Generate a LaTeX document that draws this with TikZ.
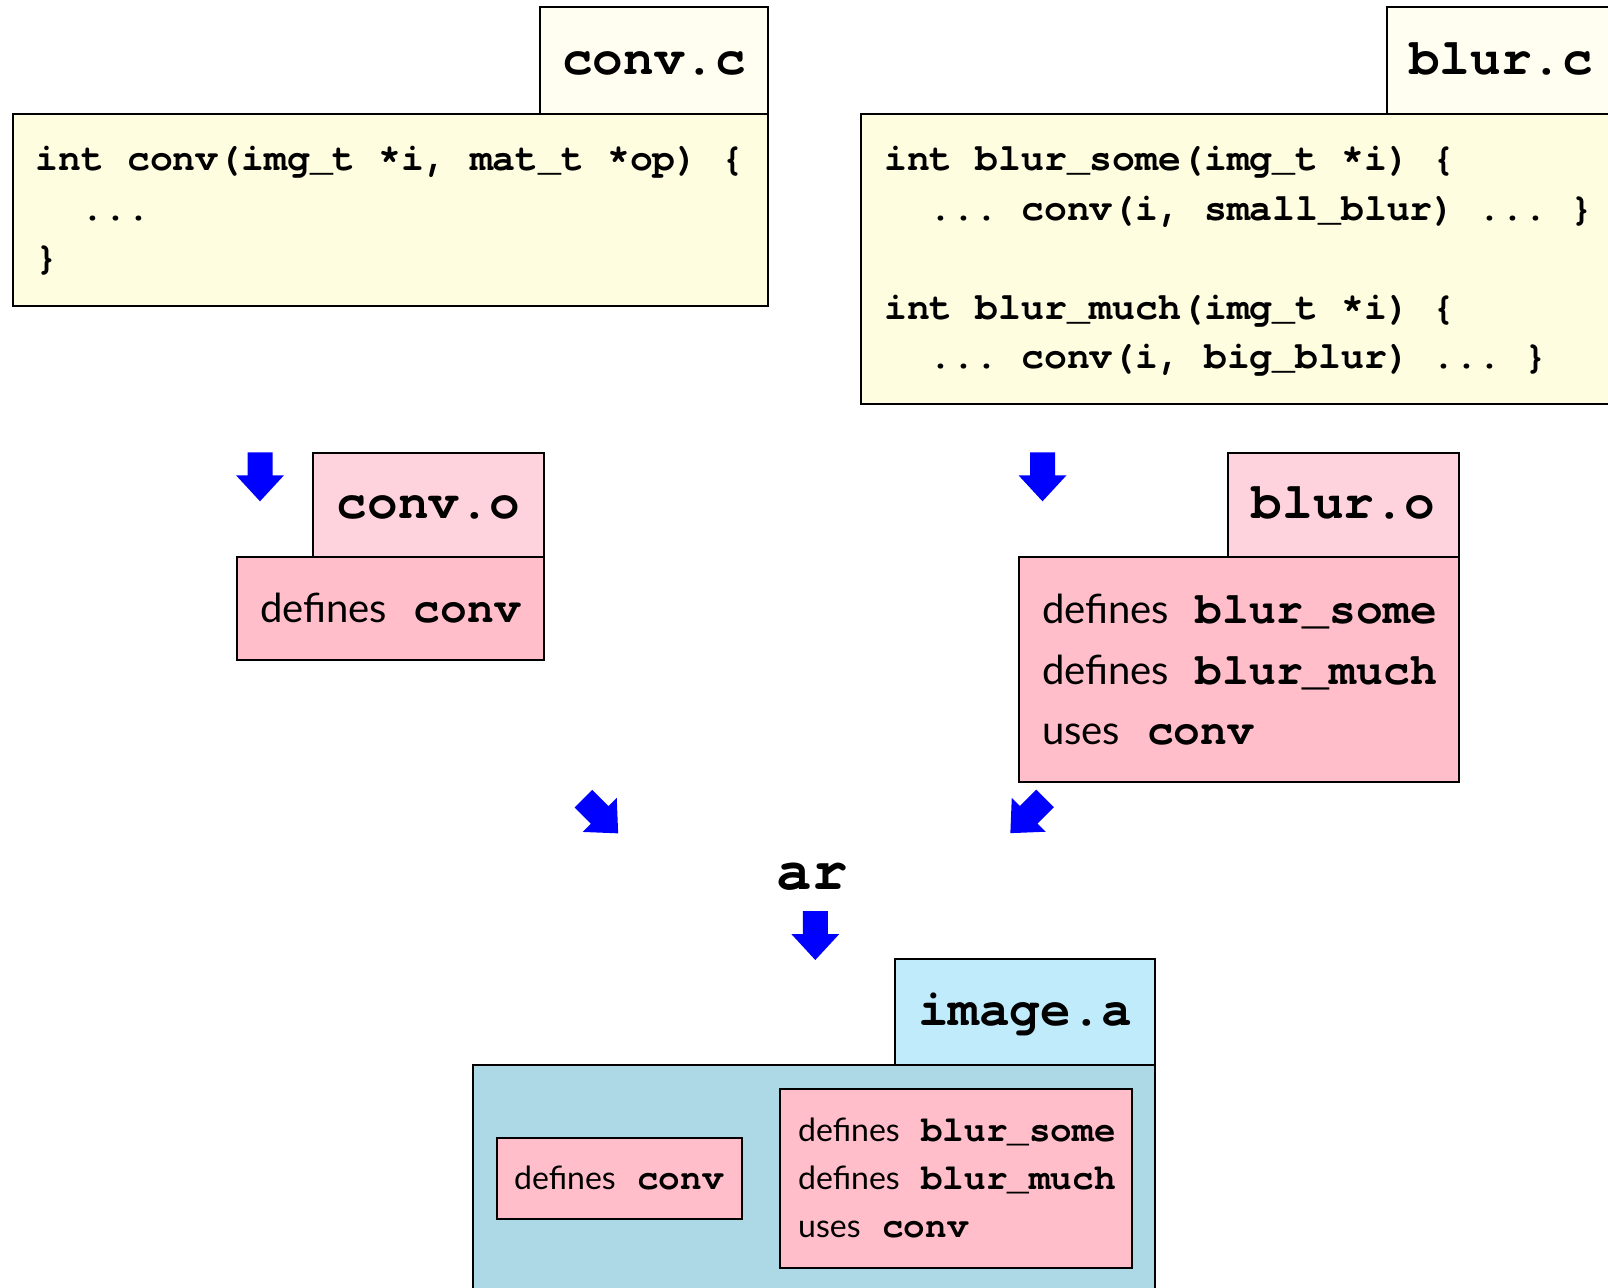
\documentclass[tikz,border=0pt]{standalone}
\usepackage{fontspec}
\setmainfont{Lato}
\newfontfamily\cur{texgyrecursor-bold.otf}
\definecolor{codetabc}{HTML}{FFFEF0}
\definecolor{codebodyc}{HTML}{FFFDE0}
\definecolor{pinktabc}{HTML}{FFD3DE}
\definecolor{pinkbodyc}{HTML}{FFBEC9}
\definecolor{cyantabc}{HTML}{BFEBFA}
\definecolor{cyanbodyc}{HTML}{ADD8E6}
\tikzset{
  box/.style={draw=black, line width=2pt, inner sep=0pt, outer sep=0pt, anchor=north west},
  codetab/.style={box, fill=codetabc},
  codebody/.style={box, fill=codebodyc},
  pinktab/.style={box, fill=pinktabc},
  pinkbody/.style={box, fill=pinkbodyc},
  cyantab/.style={box, fill=cyantabc},
  cyanbody/.style={box, fill=cyanbodyc},
  lbl/.style={anchor=base, inner sep=0pt, font=\cur\fontsize{51}{55}\selectfont},
  code/.style={anchor=base west, inner sep=0pt, font=\cur\fontsize{38.1}{40}\selectfont\frenchspacing},
  body/.style={anchor=base west, inner sep=0pt, font=\fontsize{40}{44}\selectfont},
  inbody/.style={anchor=base west, inner sep=0pt, font=\fontsize{32}{36}\selectfont},
  blockarrow/.pic={\fill[blue] (-12.5,0) -- (12.5,0) -- (12.5,23) -- (24,23) -- (0,49) -- (-24,23) -- (-12.5,23) -- cycle;}
}
\newcommand{\bm}[1]{{\cur\fontsize{44.6}{48}\selectfont~#1}}
\newcommand{\im}[1]{{\cur\fontsize{36}{40}\selectfont~#1}}
\begin{document}
\begin{tikzpicture}[x=1pt,y=-1pt]
\useasboundingbox (0,0) rectangle (1608,1287);
\clip (0,0) rectangle (1608,1287);
\fill[white] (0,0) rectangle (1608,1287);
% conv.c
\node[codetab, minimum width=228pt, minimum height=107pt] (convtab) at (540,7) {};
\node[codebody, minimum width=755.5pt, minimum height=192pt] (convbody) at (12.5,114) {};
\node[lbl] (convlbl) at (654,75) {conv.c};
\node[code] (cc1) at (35.5,170.5) {int conv(img\_t *i, mat\_t *op) \{};
\node[code] (cc2) at (35.5,220) {~~...};
\node[code] (cc3) at (35.5,269.5) {\}};
% blur.c
\node[codetab, minimum width=229pt, minimum height=107pt] (blurtab) at (1386.5,7) {};
\node[codebody, minimum width=760pt, minimum height=290pt] (blurbody) at (861,114) {};
\node[lbl] (blurlbl) at (1501,75) {blur.c};
\node[code] (bc1) at (884,170.5) {int blur\_some(img\_t *i) \{};
\node[code] (bc2) at (884,220) {~~... conv(i, small\_blur) ... \}};
\node[code] (bc3) at (884,319) {int blur\_much(img\_t *i) \{};
\node[code] (bc4) at (884,368.5) {~~... conv(i, big\_blur) ... \}};
% conv.o
\pic (arrconv) at (260,452.3) {blockarrow};
\node[pinktab, minimum width=230.7pt, minimum height=104.6pt] (convotab) at (313.3,452.7) {};
\node[pinkbody, minimum width=307.3pt, minimum height=102.7pt] (convobody) at (236.7,557.3) {};
\node[lbl] (convolbl) at (428.7,518) {conv.o};
\node[body] (co1) at (260,622.5) {defines\bm{conv}};
% blur.o
\pic (arrblur) at (1042.5,452.3) {blockarrow};
\node[pinktab, minimum width=230.7pt, minimum height=104.6pt] (blurotab) at (1228.3,452.7) {};
\node[pinkbody, minimum width=440pt, minimum height=224.4pt] (blurobody) at (1019,557.3) {};
\node[lbl] (blurolbl) at (1343.7,518) {blur.o};
\node[body] (bo1) at (1042,623.5) {defines\bm{blur\_some}};
\node[body] (bo2) at (1042,684) {defines\bm{blur\_much}};
\node[body] (bo3) at (1042,744.7) {uses\bm{conv}};
% ar
\pic[rotate=45] (arrl) at (583.5,798.7) {blockarrow};
\pic[rotate=-45] (arrr) at (1045,798.5) {blockarrow};
\node[anchor=base, inner sep=0pt, font=\cur\fontsize{59}{62}\selectfont] (ar) at (812,889.5) {ar};
\pic (arrar) at (815.3,911) {blockarrow};
% image.a
\node[cyantab, minimum width=260.4pt, minimum height=106.3pt] (imgtab) at (895,959) {};
\node[cyanbody, minimum width=682.6pt, minimum height=250pt] (imgbody) at (472.8,1065.3) {};
\node[lbl] (imglbl) at (1025.2,1025) {image.a};
\node[pinkbody, minimum width=245.3pt, minimum height=81pt] (inner1) at (496.7,1138.3) {};
\node[pinkbody, minimum width=352pt, minimum height=179pt] (inner2) at (780,1089.3) {};
\node[inbody] (i1) at (514,1189.8) {defines\im{conv}};
\node[inbody] (i2a) at (798,1141.2) {defines\im{blur\_some}};
\node[inbody] (i2b) at (798,1189.8) {defines\im{blur\_much}};
\node[inbody] (i2c) at (798,1237.8) {uses\im{conv}};
\end{tikzpicture}
\end{document}
